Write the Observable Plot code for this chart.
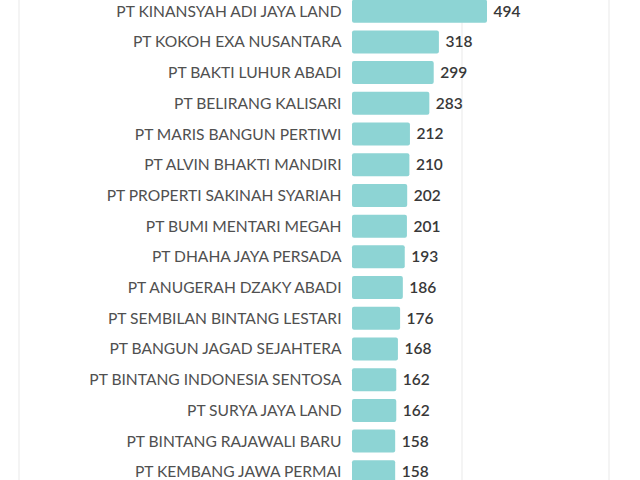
<!DOCTYPE html>
<html><head><meta charset="utf-8">
<script src="https://cdn.jsdelivr.net/npm/d3@7"></script>
<script src="https://cdn.jsdelivr.net/npm/@observablehq/plot@0.6"></script>
<style>
html,body{margin:0;padding:0;background:#fff;}
#wrap{position:relative;width:640px;height:480px;overflow:hidden;}
.vl{position:absolute;top:0;bottom:0;width:2px;background:#f4f4f4;}
#chart{position:absolute;left:0;top:0;}
</style></head>
<body>
<div id="wrap">
<div class="vl" style="left:18px"></div>
<div class="vl" style="left:461px"></div>
<div class="vl" style="left:608px"></div>
<div id="chart"></div>
</div>
<script>
const companies = [
 "PT KINANSYAH ADI JAYA LAND","PT KOKOH EXA NUSANTARA","PT BAKTI LUHUR ABADI","PT BELIRANG KALISARI",
 "PT MARIS BANGUN PERTIWI","PT ALVIN BHAKTI MANDIRI","PT PROPERTI SAKINAH SYARIAH","PT BUMI MENTARI MEGAH",
 "PT DHAHA JAYA PERSADA","PT ANUGERAH DZAKY ABADI","PT SEMBILAN BINTANG LESTARI","PT BANGUN JAGAD SEJAHTERA",
 "PT BINTANG INDONESIA SENTOSA","PT SURYA JAYA LAND","PT BINTANG RAJAWALI BARU","PT KEMBANG JAWA PERMAI"
];
const values = [494,318,299,283,212,210,202,201,193,186,176,168,162,162,158,158];
const data = companies.map((name,i)=>({name, value: values[i]}));

const chart = Plot.plot({
  width: 640, height: 480,
  marginLeft: 352, marginRight: 153, marginTop: -8, marginBottom: -11,
  x: {domain: [0, 494], axis: null},
  y: {domain: companies, axis: null, padding: 0.25, round: false},
  style: {fontFamily: "Lato, sans-serif", background: "transparent"},
  marks: [
    Plot.barX(data, {y: "name", x: "value", fill: "#8dd4d4", rx: 2}),
    Plot.text(data, {y: "name", x: 0, text: "name", textAnchor: "end", dx: -11, fontSize: 15.6, fill: "#505050"}),
    Plot.text(data, {y: "name", x: "value", text: d => String(d.value), textAnchor: "start", dx: 6, fontSize: 15.5, fill: "#383838", fontWeight: 600})
  ]
});
document.getElementById("chart").appendChild(chart);
</script>
</body></html>
